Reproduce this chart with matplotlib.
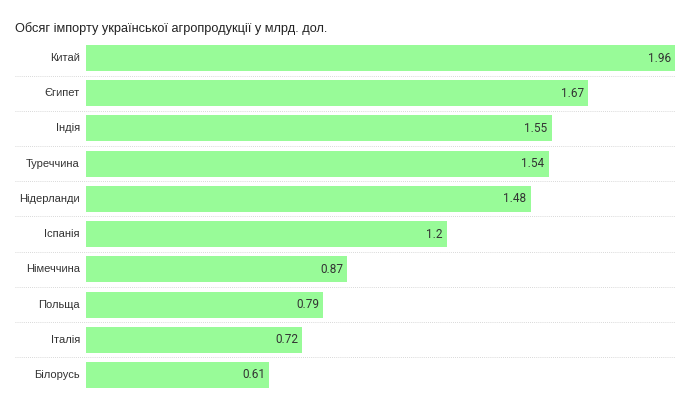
import matplotlib.pyplot as plt
import matplotlib.transforms as mtransforms

countries = ['Китай', 'Єгипет', 'Індія', 'Туреччина', 'Нідерланди',
             'Іспанія', 'Німеччина', 'Польща', 'Італія', 'Білорусь']
values = [1.96, 1.67, 1.55, 1.54, 1.48, 1.2, 0.87, 0.79, 0.72, 0.61]
title = 'Обсяг імпорту української агропродукції у млрд. дол.'

plt.rcParams['font.family'] = ['Liberation Sans', 'DejaVu Sans']

W, H = 690, 396
fig = plt.figure(figsize=(W / 100, H / 100), dpi=100)
left, right = 86 / W, 675 / W
top, bottom = 1 - 40.4 / H, 1 - 392.6 / H
ax = fig.add_axes([left, bottom, right - left, top - bottom])

ypos = range(len(countries))
ax.barh(ypos, values, height=0.74, color='#98fb98')
ax.set_xlim(0, max(values))
ax.set_ylim(len(countries) - 0.5, -0.5)

# value labels inside the bar end
for y, v in zip(ypos, values):
    ax.annotate(f'{v:g}', (v, y), xytext=(-3, 0), textcoords='offset points',
                ha='right', va='center', fontsize=8.5, color='#333333',
                family=['Roboto', 'DejaVu Sans'])

# category labels
for y, c in zip(ypos, countries):
    ax.annotate(c, (0, y), xytext=(-4.5, 0), textcoords='offset points',
                ha='right', va='center', fontsize=8, color='#333333',
                annotation_clip=False)

# dotted separators between rows
trans = mtransforms.blended_transform_factory(ax.transAxes, ax.transData)
x0 = (15 - 86) / 589
for i in range(len(countries) - 1):
    ax.plot([x0, 1], [i + 0.5, i + 0.5], transform=trans, color='#cccccc',
            lw=0.6, ls=(0, (1, 1.5)), clip_on=False)

ax.set_axis_off()
fig.text(15 / W, 1 - 28.5 / H, title, ha='left', va='center',
         fontsize=9.2, color='#222222')

fig.savefig('out.png', dpi=100)
